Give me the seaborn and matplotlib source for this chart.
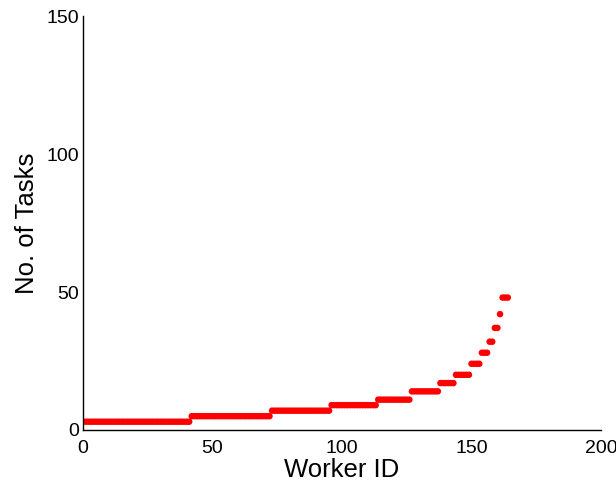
import numpy as np
import pandas as pd
import matplotlib
matplotlib.use("Agg")
import matplotlib.pyplot as plt
import seaborn as sns

# Task count levels and how many workers have each count (sorted ascending)
task_levels = [3, 5, 7, 9, 11, 14, 17, 20, 24, 28, 32, 37, 42, 48]
workers_per_level = [41, 31, 23, 18, 13, 11, 6, 6, 4, 3, 2, 2, 1, 3]

tasks = []
for lvl, n in zip(task_levels, workers_per_level):
    tasks.extend([lvl] * n)
worker_id = list(range(1, len(tasks) + 1))

df = pd.DataFrame({"Worker ID": worker_id, "No. of Tasks": tasks})

sns.set_style("white")
plt.rcParams["font.family"] = ["Liberation Sans", "DejaVu Sans"]

fig = plt.figure(figsize=(6.16, 4.84), dpi=100)
ax = fig.add_axes([0.1347, 0.1116, 0.841, 0.855])

sns.scatterplot(data=df, x="Worker ID", y="No. of Tasks", ax=ax,
                color="#ff0000", edgecolor="none", s=22, marker="o")

ax.set_xlim(0, 200)
ax.set_ylim(0, 150)
ax.set_xticks([0, 50, 100, 150, 200])
ax.set_yticks([0, 50, 100, 150])
ax.tick_params(direction="in", length=5, width=1, labelsize=14, colors="black")
ax.tick_params(axis="x", pad=7)
ax.tick_params(axis="y", pad=3)
for side in ["top", "right"]:
    ax.spines[side].set_visible(False)
for side in ["left", "bottom"]:
    ax.spines[side].set_color("black")
    ax.spines[side].set_linewidth(1)
ax.set_xlabel("Worker ID", fontsize=18.5, labelpad=1, color="black")
ax.set_ylabel("No. of Tasks", fontsize=18.5, labelpad=5, color="black")

fig.savefig("out.png", dpi=100)
